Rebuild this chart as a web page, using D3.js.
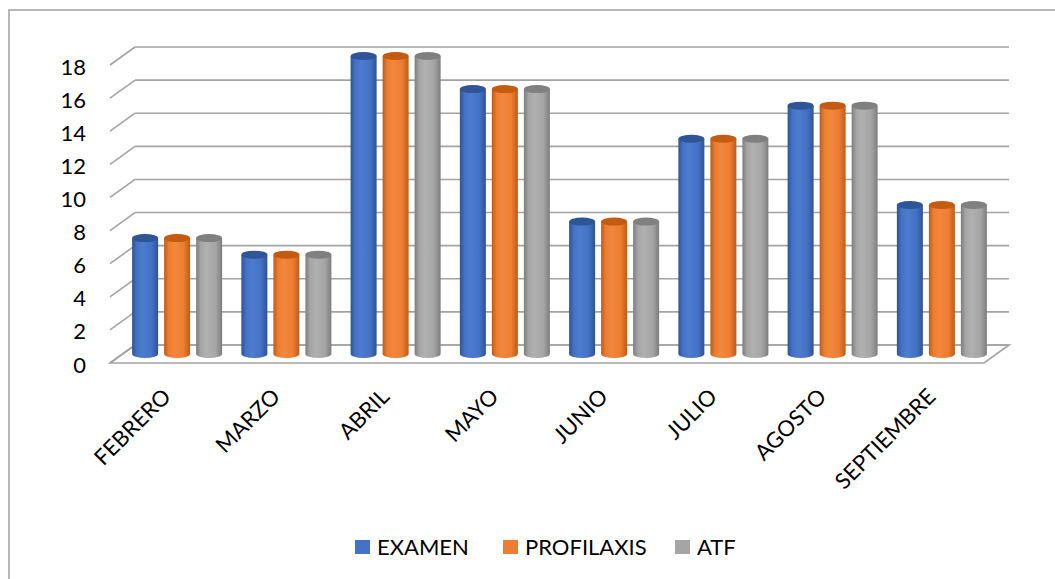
<!DOCTYPE html>
<html>
<head>
<meta charset="utf-8">
<script src="https://cdn.jsdelivr.net/npm/d3@7"></script>
<style>
  html, body { margin: 0; padding: 0; background: #ffffff; }
  svg { display: block; }
  text { font-family: Lato, "Open Sans", sans-serif; fill: #000; }
</style>
</head>
<body>
<svg id="chart" width="1055" height="579"></svg>
<script>
// Monthly counts per service
const categories = ["FEBRERO", "MARZO", "ABRIL", "MAYO", "JUNIO", "JULIO", "AGOSTO", "SEPTIEMBRE"];
const seriesNames = ["EXAMEN", "PROFILAXIS", "ATF"];
const examen     = [7, 6, 18, 16, 8, 13, 15, 9];
const profilaxis = [7, 6, 18, 16, 8, 13, 15, 9];
const atf        = [7, 6, 18, 16, 8, 13, 15, 9];
const yTicks = [0, 2, 4, 6, 8, 10, 12, 14, 16, 18];

const seriesValues = [examen, profilaxis, atf];
const colors = ["#4472c4", "#ed7d31", "#a5a5a5"];
const edgeColors = ["#2e5394", "#bd5b1b", "#7d7d7d"];
const lightColors = ["#4c7bd0", "#f2873d", "#b0b0b0"];
const topColors = ["#2f5597", "#c55a11", "#808080"];

const svg = d3.select("#chart");
const W = 1055, H = 579;

// 3D box geometry: front plane and depth offset
const frontLeft = 110, frontRight = 984;
const depthX = 25, depthY = 18;
const yBack = d3.scaleLinear().domain([0, 18]).range([345, 47]);
const yAt = (v, t) => yBack(v) + depthY * (1 - t);   // t=1 back wall, t=0 front
const xAt = (x, t) => x + depthX * t;

const x0 = d3.scaleBand().domain(categories).range([frontLeft, frontRight])
  .paddingInner(0.176).paddingOuter(0.088);
const x1 = d3.scaleBand().domain(seriesNames).range([0, x0.bandwidth()])
  .paddingInner(0.1875).paddingOuter(0);

// outer chart border
svg.append("rect")
  .attr("x", 9).attr("y", 10).attr("width", W + 20).attr("height", H + 20)
  .attr("fill", "#fff").attr("stroke", "#a6a6a6").attr("stroke-width", 1.6);

const grid = svg.append("g");
const gridColor = "#a3a3a3";

// floor
grid.append("path")
  .attr("d", `M${xAt(frontLeft,0)},${yAt(0,0)} L${xAt(frontRight,0)},${yAt(0,0)} L${xAt(frontRight,1)},${yAt(0,1)} L${xAt(frontLeft,1)},${yAt(0,1)} Z`)
  .attr("fill", "#fff").attr("stroke", gridColor).attr("stroke-width", 1.6);

// back-wall gridlines and side-wall diagonals
yTicks.forEach(v => {
  grid.append("line")
    .attr("x1", xAt(frontLeft, 1)).attr("x2", xAt(frontRight, 1))
    .attr("y1", yAt(v, 1)).attr("y2", yAt(v, 1))
    .attr("stroke", gridColor).attr("stroke-width", 1.6);
  grid.append("line")
    .attr("x1", xAt(frontLeft, 0)).attr("y1", yAt(v, 0))
    .attr("x2", xAt(frontLeft, 1)).attr("y2", yAt(v, 1))
    .attr("stroke", gridColor).attr("stroke-width", 1.6);
});

// y axis labels on the front plane
const yFront = d3.scaleLinear().domain([0, 18]).range([yAt(0, 0), yAt(18, 0)]);
const yAxis = svg.append("g")
  .attr("transform", `translate(86,2)`)
  .call(d3.axisLeft(yFront).tickValues(yTicks).tickSize(0).tickPadding(0));
yAxis.select(".domain").remove();
yAxis.selectAll("text").style("font-family", "Lato, sans-serif").style("font-size", "22px").attr("fill", "#000");

// cylinder gradients
const defs = svg.append("defs");
colors.forEach((c, i) => {
  const g = defs.append("linearGradient").attr("id", "cyl" + i)
    .attr("x1", "0%").attr("x2", "100%").attr("y1", "0%").attr("y2", "0%");
  g.append("stop").attr("offset", "0%").attr("stop-color", edgeColors[i]);
  g.append("stop").attr("offset", "18%").attr("stop-color", c);
  g.append("stop").attr("offset", "40%").attr("stop-color", lightColors[i]);
  g.append("stop").attr("offset", "75%").attr("stop-color", c);
  g.append("stop").attr("offset", "100%").attr("stop-color", edgeColors[i]);
});

// cylinders at mid depth
const ry = 4;
const bars = svg.append("g");
categories.forEach((cat, ci) => {
  seriesNames.forEach((s, si) => {
    const v = seriesValues[si][ci];
    const xl = xAt(x0(cat) + x1(s), 0.5);
    const w = x1.bandwidth();
    const rx = w / 2;
    const yt = yAt(v, 0.5);
    const yb = yAt(0, 0.5);
    bars.append("path")
      .attr("d", `M${xl},${yt} L${xl},${yb} A${rx},${ry} 0 0 0 ${xl + w},${yb} L${xl + w},${yt} Z`)
      .attr("fill", `url(#cyl${si})`);
    bars.append("ellipse")
      .attr("cx", xl + rx).attr("cy", yt).attr("rx", rx).attr("ry", ry)
      .attr("fill", topColors[si]);
  });
});

// category labels
const xLabels = svg.append("g");
categories.forEach(cat => {
  const cx = xAt(x0(cat) + x0.bandwidth() / 2, 0.5);
  xLabels.append("text")
    .attr("transform", `translate(${cx - 5},${398}) rotate(-45)`)
    .attr("text-anchor", "end")
    .style("font-size", "22px")
    .text(cat);
});

// legend
const legendX = [355, 503, 675];
const legend = svg.append("g");
seriesNames.forEach((s, i) => {
  legend.append("rect")
    .attr("x", legendX[i]).attr("y", 540).attr("width", 15).attr("height", 14)
    .attr("fill", colors[i]);
  legend.append("text")
    .attr("x", legendX[i] + 22).attr("y", 555)
    .style("font-size", "22px")
    .text(s);
});
</script>
</body>
</html>
